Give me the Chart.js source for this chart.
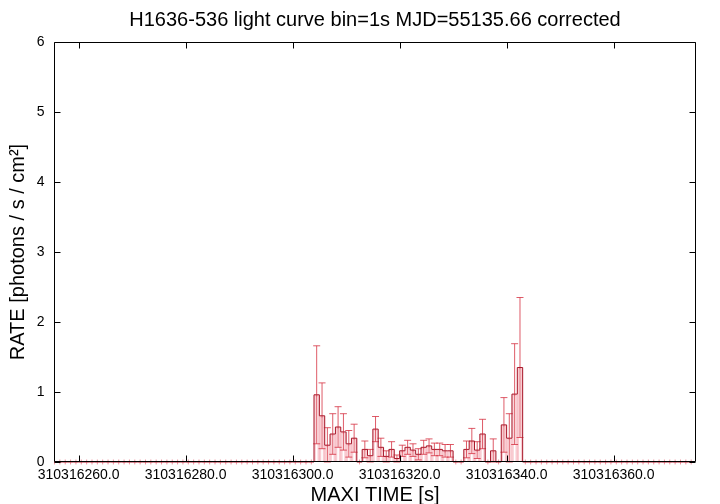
<!DOCTYPE html>
<html><head><meta charset="utf-8">
<script src="https://cdn.jsdelivr.net/npm/chart.js@4/dist/chart.umd.min.js"></script>
<style>html,body{margin:0;padding:0;background:#fff}#wrap{width:720px;height:504px}</style>
</head><body><div id="wrap"><canvas id="c" width="720" height="504"></canvas></div>
<script>
const TITLE = "H1636-536 light curve bin=1s MJD=55135.66 corrected";
const X_LABEL = "MAXI TIME [s]";
const Y_LABEL = "RATE [photons / s / cm²]";
const T_FIRST = 310316255.5;   // centre of the first 1 s bin
const BIN = 1;                 // bin width (s)
const X_MIN = 310316255.4;
const X_MAX = 310316375.4;
const X_TICKS = [310316260, 310316280, 310316300, 310316320, 310316340, 310316360];
const Y_TICKS = [0, 1, 2, 3, 4, 5, 6];

// rate per 1 s bin (120 bins)
const RATE = [
  0,0,0,0,0,0,0,0,0,0, 0,0,0,0,0,0,0,0,0,0, 0,0,0,0,0,0,0,0,0,0,
  0,0,0,0,0,0,0,0,0,0, 0,0,0,0,0,0,0,0,0,
  0.96,0.66,0.24,0.40,0.50,0.43,0.26,0.34,0,0.18,
  0.09,0.47,0.21,0.08,0.18,0.05,0.16,0.21,0.17,0.11,
  0.21,0.23,0.18,0.18,0.16,0.16,0,0,0.18,0.30,
  0.17,0.40,0,0.16,0,0.53,0.34,0.97,1.35,
  0,0,0,0,0,0,0,0,0,0, 0,0,0,0,0,0,0,0,0,0, 0,0,0,0,0,0,0,0,0,0, 0,0
];
// 1-sigma error per bin
const ERR = [
  0.035,0.035,0.035,0.035,0.035,0.035,0.035,0.035,0.035,0.035,
  0.035,0.035,0.035,0.035,0.035,0.035,0.035,0.035,0.035,0.035,
  0.035,0.035,0.035,0.035,0.035,0.035,0.035,0.035,0.035,0.035,
  0.035,0.035,0.035,0.035,0.035,0.035,0.035,0.035,0.035,0.035,
  0.035,0.035,0.035,0.035,0.035,0.035,0.035,0.035,0.035,
  0.70,0.47,0.25,0.29,0.29,0.26,0.19,0.20,0.035,0.12,
  0.09,0.18,0.13,0.08,0.11,0.05,0.08,0.10,0.09,0.08,
  0.10,0.10,0.09,0.09,0.09,0.09,0.035,0.035,0.12,0.18,
  0.12,0.21,0.035,0.17,0.035,0.39,0.35,0.72,1.00,
  0.035,0.035,0.035,0.035,0.035,0.035,0.035,0.035,0.035,0.035,
  0.035,0.035,0.035,0.035,0.035,0.035,0.035,0.035,0.035,0.035,
  0.035,0.035,0.035,0.035,0.035,0.035,0.035,0.035,0.035,0.035,
  0.035,0.035
];
const TIME = RATE.map((_, i) => T_FIRST + i * BIN);

const FONT = "'Liberation Sans', Arial, Helvetica, sans-serif";

const gnuplotLook = {
  id: 'gnuplotLook',
  afterDatasetDraw(chart, args) {
    if (args.index !== 1) return;
    const ctx = chart.ctx, xs = chart.scales.x, ys = chart.scales.y;
    ctx.save();
    ctx.lineWidth = 1;
    for (let i = 0; i < TIME.length; i++) {
      const px = xs.getPixelForValue(TIME[i]);
      const v = RATE[i], e = ERR[i];
      ctx.beginPath();
      if (v === 0) {
        ctx.strokeStyle = 'rgba(235,110,125,0.75)';
        ctx.moveTo(px, ys.getPixelForValue(-e));
        ctx.lineTo(px, ys.getPixelForValue(e));
        ctx.stroke();
      } else {
        const lo = Math.max(0, v - e), hi = v + e;
        const yl = ys.getPixelForValue(lo), yh = ys.getPixelForValue(hi);
        ctx.strokeStyle = 'rgba(214,50,66,0.8)';
        ctx.moveTo(px, yl); ctx.lineTo(px, yh);
        ctx.moveTo(px - 3.5, yh); ctx.lineTo(px + 3.5, yh);
        ctx.moveTo(px - 3.5, yl); ctx.lineTo(px + 3.5, yl);
        ctx.stroke();
      }
    }
    ctx.restore();
  },
  afterDraw(chart) {
    const {ctx, chartArea: a, scales: {x, y}} = chart;
    ctx.save();
    ctx.strokeStyle = '#000';
    ctx.lineWidth = 1;
    const L = Math.round(a.left) + 0.5, R = Math.round(a.right) - 0.5;
    const T = Math.round(a.top) + 0.5, B = Math.round(a.bottom) - 0.5;
    ctx.beginPath();
    ctx.rect(L, T, R - L, B - T);
    const len = 6;
    X_TICKS.forEach(v => {
      const px = Math.round(x.getPixelForValue(v)) + 0.5;
      ctx.moveTo(px, B); ctx.lineTo(px, B - len);
      ctx.moveTo(px, T); ctx.lineTo(px, T + len);
    });
    Y_TICKS.forEach(v => {
      const py = Math.round(y.getPixelForValue(v)) + 0.5;
      ctx.moveTo(L, py); ctx.lineTo(L + len, py);
      ctx.moveTo(R, py); ctx.lineTo(R - len, py);
    });
    ctx.stroke();
    ctx.restore();
  }
};

new Chart(document.getElementById('c'), {
  data: {
    datasets: [
      {
        type: 'line',
        data: TIME.map((t, i) => ({x: t, y: RATE[i]})),
        stepped: 'middle',
        borderColor: '#a8182a',
        borderWidth: 1,
        pointRadius: 0,
        fill: false,
        clip: false
      },
      {
        type: 'bar',
        data: TIME.map((t, i) => ({x: t, y: RATE[i] > 0 ? RATE[i] : null})),
        backgroundColor: 'rgba(0,0,0,0)',
        borderColor: 'rgba(240,130,145,0.4)',
        borderWidth: 1.5,
        borderSkipped: 'start',
        barPercentage: 1,
        categoryPercentage: 1
      }
    ]
  },
  options: {
    responsive: false,
    animation: false,
    devicePixelRatio: 1,
    layout: {padding: {left: 0, right: 24, top: 0, bottom: 0}},
    plugins: {
      legend: {display: false},
      tooltip: {enabled: false},
      title: {
        display: true,
        fullSize: false,
        text: TITLE,
        color: '#000',
        font: {family: FONT, size: 20, weight: 'normal', lineHeight: 1.2},
        padding: {top: 8, bottom: 10}
      }
    },
    scales: {
      x: {
        type: 'linear',
        offset: false,
        min: X_MIN,
        max: X_MAX,
        afterBuildTicks: s => { s.ticks = X_TICKS.map(v => ({value: v})); },
        afterFit: s => { s.height = 42; },
        ticks: {
          callback: v => Number(v).toFixed(1),
          autoSkip: false, maxRotation: 0, minRotation: 0,
          color: '#000', padding: 5,
          font: {family: FONT, size: 14}
        },
        grid: {display: false, drawTicks: false, offset: false},
        border: {display: false},
        title: {
          display: true, text: X_LABEL, color: '#000',
          font: {family: FONT, size: 20, lineHeight: 1.2},
          padding: {top: 0, bottom: -3.4}
        }
      },
      y: {
        type: 'linear',
        min: 0,
        max: 6,
        afterBuildTicks: s => { s.ticks = Y_TICKS.map(v => ({value: v})); },
        afterFit: s => { s.width = 54; },
        ticks: {
          color: '#000', padding: 9.5,
          font: {family: FONT, size: 14}
        },
        grid: {display: false, drawTicks: false},
        border: {display: false},
        title: {
          display: true, text: Y_LABEL, color: '#000',
          font: {family: FONT, size: 20, lineHeight: 1.2},
          padding: {top: 6, bottom: 0}
        }
      }
    }
  },
  plugins: [gnuplotLook]
});
</script>
</body></html>
